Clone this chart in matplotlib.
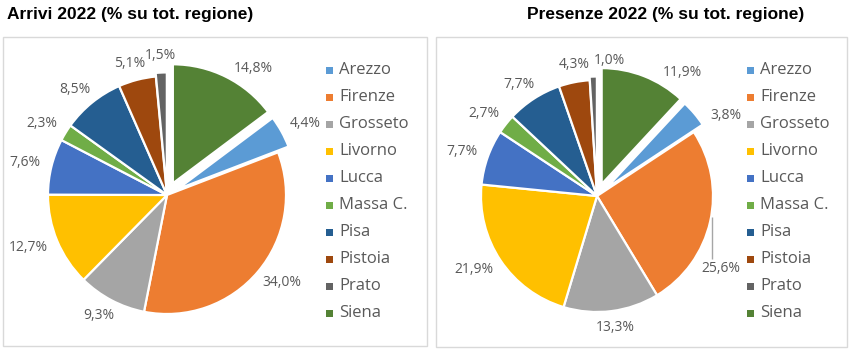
import matplotlib
matplotlib.use('Agg')
import matplotlib.pyplot as plt
from matplotlib.patches import Rectangle
import numpy as np

categories = ['Arezzo', 'Firenze', 'Grosseto', 'Livorno', 'Lucca',
              'Massa C.', 'Pisa', 'Pistoia', 'Prato', 'Siena']
arrivi = [4.4, 34.0, 9.3, 12.7, 7.6, 2.3, 8.5, 5.1, 1.5, 14.8]
presenze = [3.8, 25.6, 13.3, 21.9, 7.7, 2.7, 7.7, 4.3, 1.0, 11.9]
colors = ['#5B9BD5', '#ED7D31', '#A5A5A5', '#FFC000', '#4472C4',
          '#70AD47', '#255E91', '#9E480E', '#636363', '#548235']
title_arrivi = 'Arrivi 2022 (% su tot. regione)'
title_presenze = 'Presenze 2022 (% su tot. regione)'

W, H = 855, 355
fig = plt.figure(figsize=(W / 100, H / 100), dpi=100)
ax = fig.add_axes([0, 0, 1, 1])
ax.set_xlim(0, W)
ax.set_ylim(0, H)
ax.set_aspect('equal')
ax.axis('off')
renderer = fig.canvas.get_renderer()

GRAY = '#595959'
LABEL_FONT = 'Open Sans'


def Y(y):
    return H - y


def draw(values, cx, cy, r, explode, title, tx, panel, legx,
         angle_override=None, leader=()):
    angle_override = angle_override or {}
    # panel border
    x0, y0, x1, y1 = panel
    ax.add_patch(Rectangle((x0, Y(y1)), x1 - x0, y1 - y0, fill=False,
                           edgecolor='#D9D9D9', lw=1.0))
    ax.text(tx, Y(14), title, fontsize=12.5, fontweight='bold',
            family='Liberation Sans', ha='left', va='center', color='black')
    total = sum(values)
    start = 90 - 360 * values[-1] / total
    ax.pie(values, colors=colors, explode=[e * r for e in explode],
           center=(cx, Y(cy)), radius=r, startangle=start,
           counterclock=False,
           wedgeprops=dict(edgecolor='white', linewidth=1.6),
           frame=True)
    # labels (outside end)
    ang = start
    gap = 12
    h_eff = 10
    for i, v in enumerate(values):
        sweep = 360 * v / total
        mid = ang - sweep / 2
        ang -= sweep
        a = angle_override.get(i, mid)
        th = np.deg2rad(a)
        lab = f'{v:.1f}%'.replace('.', ',')
        t = ax.text(0, 0, lab, ha='center', va='center', fontsize=10,
                    family=LABEL_FONT, color=GRAY)
        bb = t.get_window_extent(renderer)
        w = bb.width
        R = r * (1 + explode[i]) + gap
        px = cx + R * np.cos(th) + w / 2 * np.cos(th)
        py = Y(cy) + R * np.sin(th) + h_eff / 2 * np.sin(th)
        t.set_position((px, py))
        if i in leader:
            lx = px - w / 2 + 11
            dx = lx - cx
            ye = Y(cy) - np.sqrt(max(r * r - dx * dx, 0))
            ax.plot([lx, lx], [ye - 7, py + h_eff / 2 + 4], color='#A6A6A6',
                    lw=1.0, solid_capstyle='butt')
    # legend
    for i, cat in enumerate(categories):
        yy = Y(70 + 27 * i)
        ax.add_patch(Rectangle((legx, yy - 3.5), 7, 7, facecolor=colors[i],
                               edgecolor='none'))
        ax.text(legx + 13, yy, cat, fontsize=12, family=LABEL_FONT,
                color=GRAY, ha='left', va='center')


draw(arrivi, 167, 195, 119,
     [0.10, 0, 0, 0, 0, 0, 0, 0, 0.03, 0.11],
     title_arrivi, 7, (3, 37, 427, 346), 326,
     angle_override={9: 58})
draw(presenze, 597, 196, 116,
     [0.10, 0, 0, 0, 0, 0, 0, 0, 0.03, 0.11],
     title_presenze, 527, (436, 37, 847, 347), 747,
     angle_override={0: 34, 1: -33, 7: 99, 8: 85, 9: 58}, leader=(1,))

ax.set_xlim(0, W)
ax.set_ylim(0, H)
ax.axis('off')
fig.savefig('out.png', dpi=100, facecolor='white')
